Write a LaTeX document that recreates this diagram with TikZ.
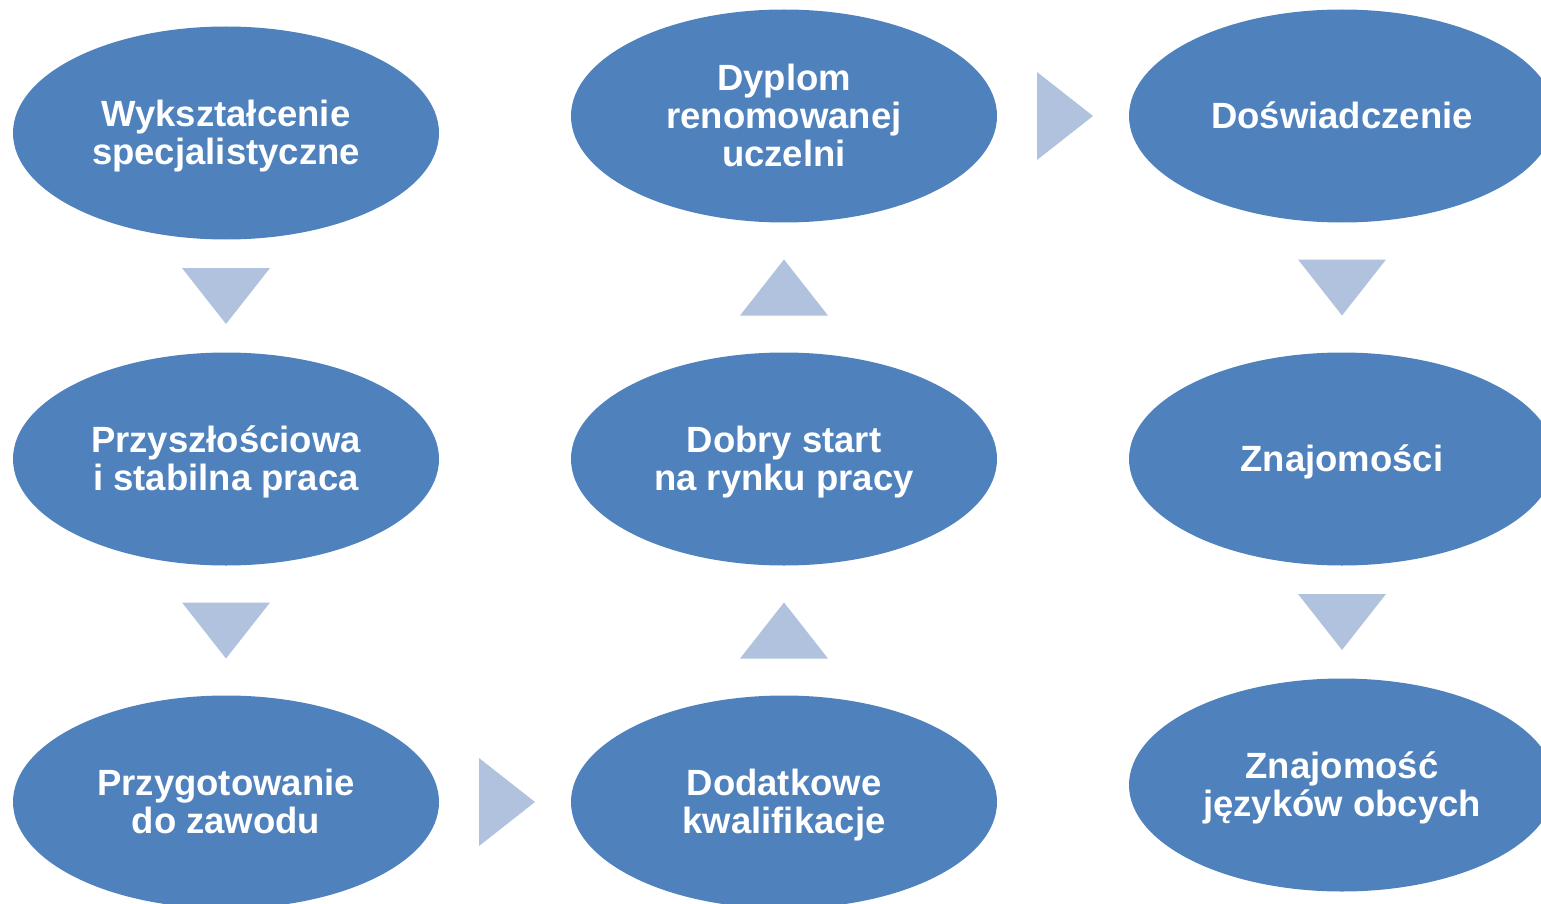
\documentclass[tikz,border=0pt]{standalone}
\usepackage{fontspec}
\setmainfont{Liberation Sans}
\usetikzlibrary{shapes.geometric,calc}
\definecolor{ellblue}{HTML}{4F81BD}
\definecolor{triblue}{HTML}{B0C2DE}
\newcommand{\ovtext}[1]{\raisebox{-5pt}[\height][\depth]{\begin{tabular}{@{}c@{}}#1\end{tabular}}}
\begin{document}
\begin{tikzpicture}[x=1pt,y=-1pt,
  oval/.style={ellipse,fill=ellblue,draw=none,minimum width=426pt,minimum height=213pt,inner sep=0pt,
    text=white,font=\fontsize{36.5}{38}\selectfont\bfseries},
  tri/.style={fill=triblue,draw=none}]
\useasboundingbox (0,0) rectangle (1541,904);
\clip (0,0) rectangle (1541,904);
% nodes
\node[oval] (a1) at (226,133) {\ovtext{Wykształcenie\\specjalistyczne}};
\node[oval] (a2) at (226,459) {\ovtext{Przyszłościowa\\i stabilna praca}};
\node[oval] (a3) at (226,802) {\ovtext{Przygotowanie\\do zawodu}};
\node[oval] (b3) at (784,802) {\ovtext{Dodatkowe\\kwalifikacje}};
\node[oval] (b2) at (784,459) {\ovtext{Dobry start\\na rynku pracy}};
\node[oval] (b1) at (784,116) {\ovtext{Dyplom\\renomowanej\\uczelni}};
\node[oval] (c1) at (1342,116) {\ovtext{Doświadczenie}};
\node[oval] (c2) at (1342,459) {\ovtext{Znajomości}};
\node[oval] (c3) at (1342,785) {\ovtext{Znajomość\\języków obcych}};
% triangle connectors
\coordinate (t1) at ($(a1.south)!0.5!(a2.north)$);
\coordinate (t2) at ($(a2.south)!0.5!(a3.north)$);
\coordinate (t3) at ($(a3.east)!0.5!(b3.west)+(2,0)$);
\coordinate (t4) at ($(b3.north)!0.5!(b2.south)$);
\coordinate (t5) at ($(b2.north)!0.5!(b1.south)$);
\coordinate (t6) at ($(b1.east)!0.5!(c1.west)+(2,0)$);
\coordinate (t7) at ($(c1.south)!0.5!(c2.north)$);
\coordinate (t8) at ($(c2.south)!0.5!(c3.north)$);
% down
\foreach \t in {t1,t2,t7,t8}
  \fill[tri] ($(\t)+(-44,-28)$) -- ($(\t)+(44,-28)$) -- ($(\t)+(0,28)$) -- cycle;
% up
\foreach \t in {t4,t5}
  \fill[tri] ($(\t)+(-44,28)$) -- ($(\t)+(44,28)$) -- ($(\t)+(0,-28)$) -- cycle;
% right
\foreach \t in {t3,t6}
  \fill[tri] ($(\t)+(-28,-44)$) -- ($(\t)+(-28,44)$) -- ($(\t)+(28,0)$) -- cycle;
\end{tikzpicture}
\end{document}
